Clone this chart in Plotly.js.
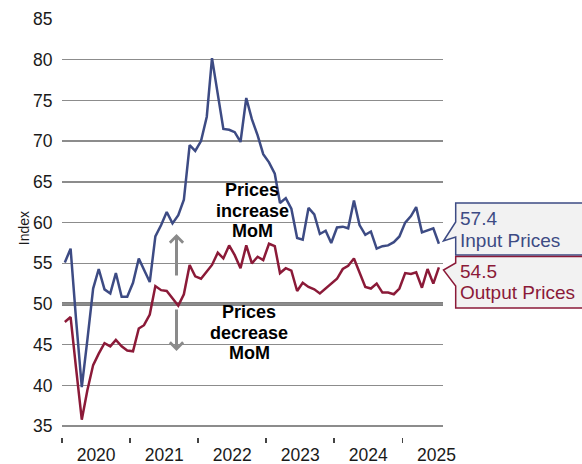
<!DOCTYPE html>
<html>
<head>
<meta charset="utf-8">
<script src="https://cdn.plot.ly/plotly-3.0.1.min.js"></script>
<style>html,body{margin:0;padding:0;background:#fff;}#chart{width:582px;height:464px;}</style>
</head>
<body>
<div id="chart"></div>
<script>
// ---- data ----
const startYear = 2020;
const monthCount = 67; // Jan 2020 .. Jul 2025
const inputPrices = [
  55.1, 56.8, 48.2, 39.8, 45.6, 51.9, 54.3, 51.8, 51.3, 53.8, 50.9, 50.9,
  52.6, 55.6, 54.2, 52.7, 58.3, 59.7, 61.3, 59.9, 60.9, 62.8, 69.5, 68.8,
  70.0, 73.0, 80.2, 75.8, 71.5, 71.4, 71.1, 69.9, 75.3, 72.7, 70.7, 68.4,
  67.4, 66.0, 62.4, 63.0, 61.7, 58.1, 57.9, 61.8, 61.0, 58.6, 59.0, 57.5,
  59.4, 59.5, 59.3, 62.7, 59.7, 58.5, 58.9, 56.8, 57.1, 57.2, 57.6, 58.3,
  60.0, 60.8, 61.9, 58.8, 59.0, 59.3, 57.4
];
const outputPrices = [
  47.8, 48.4, 42.2, 35.8, 39.4, 42.5, 43.9, 45.2, 44.8, 45.6, 44.8, 44.3,
  44.2, 47.0, 47.4, 48.7, 52.2, 51.7, 51.6, 50.7, 49.8, 51.2, 54.8, 53.4,
  53.1, 54.0, 54.8, 56.3, 55.6, 57.2, 56.0, 54.4, 57.2, 55.0, 55.8, 55.4,
  57.4, 57.1, 53.8, 54.4, 54.1, 51.6, 52.6, 52.1, 51.8, 51.3, 51.9, 52.4,
  53.1, 54.3, 54.7, 55.6, 53.8, 52.1, 51.9, 52.5, 51.4, 51.4, 51.2, 51.9,
  53.8, 53.7, 53.9, 52.0, 54.3, 52.5, 54.5
];
const seriesNames = ['Input Prices', 'Output Prices'];
const yTicks = [35, 40, 45, 50, 55, 60, 65, 70, 75, 80, 85];
const neutralLevel = 50;

const months = [];
for (let i = 0; i < monthCount; i++) {
  const y = startYear + Math.floor(i / 12);
  const m = (i % 12) + 1;
  months.push(y + '-' + String(m).padStart(2, '0') + '-16');
}

// ---- style ----
const BLUE = '#3d4b84';
const RED = '#8b1a38';
const GRID = '#8c8c8c';
const FONT = 'Liberation Sans, Arial, sans-serif';

// plot area in pixels (for decoration placement)
const L = 62, R = 443, T = 19, B = 437;
const px2paperX = p => (p - L) / (R - L);
const px2paperY = p => (B - p) / (B - T);
const yMin = 33.67, yMax = 85;
const px2val = p => yMax - (p - T) / (B - T) * (yMax - yMin);

const traces = [
  {x: months, y: inputPrices, type: 'scatter', mode: 'lines', name: seriesNames[0],
   line: {color: BLUE, width: 2.5}, hoverinfo: 'skip'},
  {x: months, y: outputPrices, type: 'scatter', mode: 'lines', name: seriesNames[1],
   line: {color: RED, width: 2.5}, hoverinfo: 'skip'}
];

function pathFrom(points) {
  return 'M' + points.map(p => px2paperX(p[0]).toFixed(5) + ',' + px2paperY(p[1]).toFixed(5)).join(' L') + ' Z';
}

const shapes = [
  {type: 'line', xref: 'paper', yref: 'y', x0: 0, x1: 1, y0: neutralLevel, y1: neutralLevel,
   line: {color: '#808080', width: 4}, layer: 'below'},
  {type: 'path', xref: 'paper', yref: 'paper', layer: 'above',
   path: pathFrom([[455.7, 203], [600, 203], [600, 255], [455.7, 255], [455.7, 237], [443.5, 241], [455.7, 222]]),
   fillcolor: '#f2f2f2', line: {color: BLUE, width: 1.5}},
  {type: 'path', xref: 'paper', yref: 'paper', layer: 'above',
   path: pathFrom([[455.7, 256.5], [600, 256.5], [600, 308], [455.7, 308], [455.7, 286], [443.5, 270], [455.7, 263]]),
   fillcolor: '#f2f2f2', line: {color: RED, width: 1.5}}
];

const lastIn = inputPrices[inputPrices.length - 1].toFixed(1);
const lastOut = outputPrices[outputPrices.length - 1].toFixed(1);

function txt(text, xp, yp, size, color, bold, anchor) {
  return {text: bold ? '<b>' + text + '</b>' : text, xref: 'paper', yref: 'y',
    x: px2paperX(xp), y: px2val(yp), xanchor: anchor || 'center', yanchor: 'middle',
    showarrow: false, font: {family: FONT, size: size, color: color}};
}

const annotations = [
  txt('Prices', 252, 190, 18, '#000', true),
  txt('increase', 252, 211, 18, '#000', true),
  txt('MoM', 252, 231, 18, '#000', true),
  txt('Prices', 249, 312, 18, '#000', true),
  txt('decrease', 249, 333, 18, '#000', true),
  txt('MoM', 249, 353, 18, '#000', true),
  txt(lastIn, 458, 218, 19, BLUE, false, 'left'),
  txt(seriesNames[0], 458, 240, 19, BLUE, false, 'left'),
  txt(lastOut, 458, 271, 19, RED, false, 'left'),
  txt(seriesNames[1], 458, 292, 19, RED, false, 'left'),
  {xref: 'paper', yref: 'y', x: px2paperX(176.5), y: px2val(234), ax: 0, ay: 43,
   axref: 'pixel', ayref: 'pixel', showarrow: true, arrowhead: 4, arrowsize: 0.85,
   arrowwidth: 3, arrowcolor: '#8a8a8a', text: ''},
  {xref: 'paper', yref: 'y', x: px2paperX(176.5), y: px2val(351), ax: 0, ay: -43,
   axref: 'pixel', ayref: 'pixel', showarrow: true, arrowhead: 4, arrowsize: 0.85,
   arrowwidth: 3, arrowcolor: '#8a8a8a', text: ''}
];

const layout = {
  width: 582, height: 464,
  margin: {l: L, r: 582 - R, t: T, b: 464 - B, pad: 0},
  paper_bgcolor: '#fff', plot_bgcolor: '#fff',
  showlegend: false, hovermode: false,
  font: {family: FONT, color: '#1a1a1a', size: 17.5},
  xaxis: {type: 'date', range: ['2019-12-31 20:00', '2025-08-07'],
    tick0: '2020-01-01', dtick: 'M12', tickformat: '%Y', ticklabelmode: 'period',
    ticks: 'outside', ticklen: 5, tickwidth: 1.5, tickcolor: '#444',
    ticklabelstandoff: -3,
    showgrid: false, zeroline: false, showline: false,
    tickfont: {family: FONT, size: 17.5, color: '#1a1a1a'}},
  yaxis: {range: [yMin, yMax], tickvals: yTicks, ticktext: yTicks.map(String),
    showgrid: true, gridcolor: GRID, gridwidth: 1.5, zeroline: false, showline: false,
    ticks: 'outside', ticklen: 5, tickcolor: 'rgba(0,0,0,0)',
    tickfont: {family: FONT, size: 17.5, color: '#1a1a1a'},
    title: {text: 'Index', font: {family: FONT, size: 14, color: '#1a1a1a'}, standoff: 0}},
  shapes: shapes,
  annotations: annotations
};

Plotly.newPlot('chart', traces, layout, {staticPlot: true, displayModeBar: false});
</script>
</body>
</html>
